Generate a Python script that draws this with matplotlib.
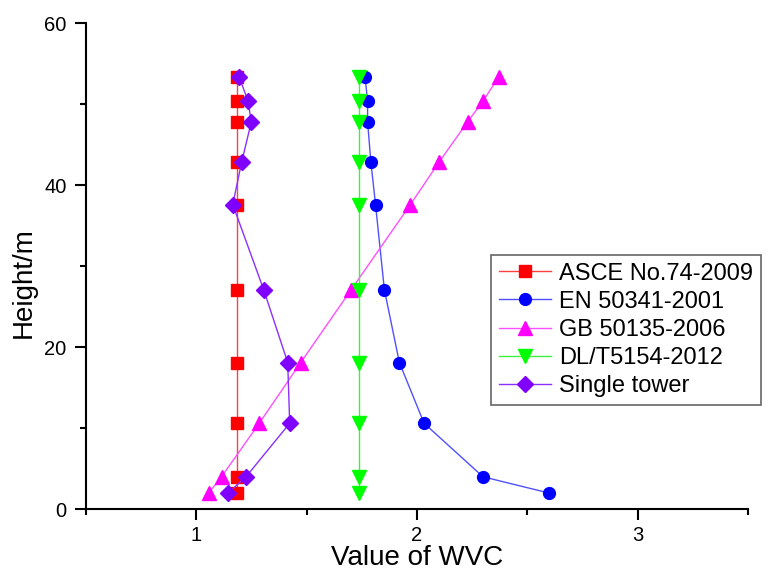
import numpy as np
import matplotlib
matplotlib.use("Agg")
import matplotlib.pyplot as plt
from matplotlib.ticker import MultipleLocator

plt.rcParams['font.family'] = ['Liberation Sans', 'DejaVu Sans']

heights = [2.0, 4.0, 10.6, 18.1, 27.1, 37.6, 42.8, 47.8, 50.4, 53.4]

asce = [1.185, 1.185, 1.185, 1.185, 1.185, 1.185, 1.185, 1.185, 1.185, 1.185]
en = [2.597, 2.299, 2.032, 1.920, 1.852, 1.812, 1.791, 1.776, 1.776, 1.764]
gb = [1.056, 1.114, 1.285, 1.473, 1.702, 1.970, 2.099, 2.229, 2.300, 2.371]
dl = [1.736, 1.736, 1.736, 1.736, 1.736, 1.736, 1.736, 1.736, 1.736, 1.736]
single = [1.144, 1.225, 1.423, 1.414, 1.305, 1.165, 1.205, 1.249, 1.234, 1.193]

# label, values, marker, marker colour, line colour, marker size
series = [
    ("ASCE No.74-2009", asce, 's', '#FF0000', '#FF4040', 8),
    ("EN 50341-2001", en, 'o', '#0000FF', '#5050FF', 8.5),
    ("GB 50135-2006", gb, '^', '#FF00FF', '#FF50FF', 9.5),
    ("DL/T5154-2012", dl, 'v', '#00FF00', '#40F040', 9.5),
    ("Single tower", single, 'D', '#7F00FF', '#8A30FF', 8.5),
]

fig = plt.figure(figsize=(7.68, 5.76), dpi=100)
ax = fig.add_axes([0.112, 0.116, 0.862, 0.844])

for label, vals, mk, col, lcol, ms in series:
    ax.plot(vals, heights, color=lcol, lw=1.0, marker=mk, ms=ms,
            mfc=col, mec=col, label=label)

ax.set_xlim(0.5, 3.5)
ax.set_ylim(0, 60)
ax.xaxis.set_major_locator(MultipleLocator(1))
ax.xaxis.set_minor_locator(MultipleLocator(0.5))
ax.yaxis.set_major_locator(MultipleLocator(20))
ax.yaxis.set_minor_locator(MultipleLocator(10))

for side in ['top', 'right']:
    ax.spines[side].set_visible(False)
for side in ['left', 'bottom']:
    ax.spines[side].set_linewidth(1.5)

ax.tick_params(which='major', direction='out', length=8, width=1.5, labelsize=14.5)
ax.tick_params(which='minor', direction='out', length=4, width=1.5)
ax.tick_params(axis='x', which='major', pad=4)
ax.tick_params(axis='y', which='major', pad=6)

ax.set_xlabel("Value of WVC", fontsize=20, labelpad=0)
ax.set_ylabel("Height/m", fontsize=20)
ax.yaxis.set_label_coords(-0.075, 0.467)

leg = fig.legend(loc='upper left', bbox_to_anchor=(491 / 768, 1 - 255 / 576),
                 fontsize=17, frameon=True, fancybox=False, edgecolor='#404040',
                 handlelength=2.2, handletextpad=0.38, labelspacing=0.26,
                 borderpad=0.32, borderaxespad=0)
leg.get_frame().set_linewidth(1.2)

fig.savefig("out.png", dpi=100)
